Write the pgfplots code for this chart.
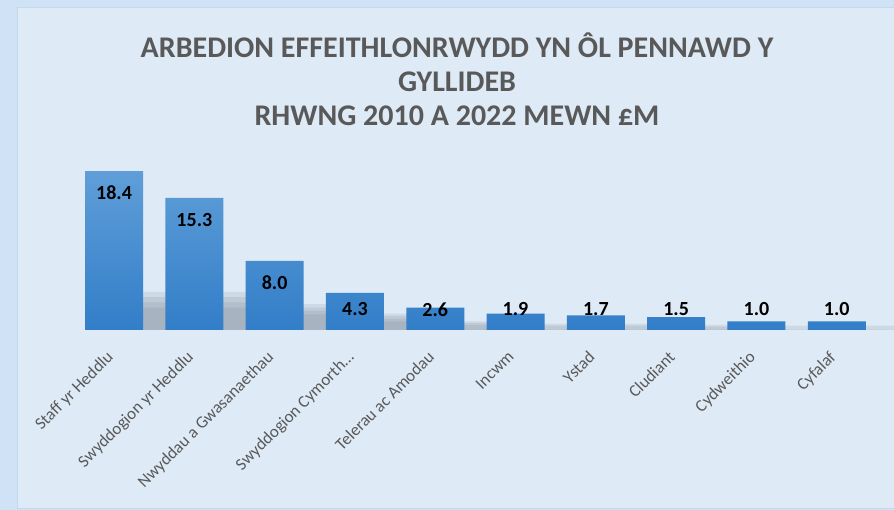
\documentclass[border=0pt]{standalone}
\usepackage{pgfplots}
\pgfplotsset{compat=1.18}
\usepackage{pgfplotstable}
\usepackage{fontspec}
\setmainfont{Carlito}
\definecolor{outerbg}{RGB}{208,226,246}
\definecolor{panelbg}{RGB}{222,234,246}
\definecolor{panelborder}{RGB}{196,216,238}
\definecolor{titlegray}{RGB}{89,89,89}
\definecolor{bartop}{RGB}{95,158,216}
\definecolor{barbot}{RGB}{50,126,200}
\definecolor{shadowgray}{RGB}{110,122,135}

\pgfplotstableread{
x v
0 18.4
1 15.3
2 8.0
3 4.3
4 2.6
5 1.9
6 1.7
7 1.5
8 1.0
9 1.0
}\bardata

\pgfplotstableread{
x y lab
0 15.85 18.4
1 12.75 15.3
2 5.45 8.0
3 2.40 4.3
4 2.35 2.6
5 2.40 1.9
6 2.40 1.7
7 2.40 1.5
8 2.40 1.0
9 2.40 1.0
}\labdata

% soft shadow layers (heights in data units)
\pgfplotstableread{
x a b c d
0 4.4 3.8 3.2 2.6
1 4.4 3.8 3.2 2.6
2 3.0 2.6 2.2 1.8
3 1.9 1.6 1.3 1.0
4 1.0 0.8 0.6 0.0
5 0.7 0.5 0.0 0.0
6 0.7 0.5 0.0 0.0
7 0.6 0.4 0.0 0.0
8 0.5 0.0 0.0 0.0
9 0.5 0.0 0.0 0.0
}\shadowdata

\begin{document}
\begin{tikzpicture}
\useasboundingbox (0,0) rectangle (894pt,510pt);
\fill[outerbg] (0,0) rectangle (894pt,510pt);
\filldraw[fill=panelbg,draw=panelborder,line width=0.8pt] (17pt,2pt) rectangle (896pt,503pt);
\node[align=center,text=titlegray,font=\fontsize{30pt}{34pt}\selectfont\bfseries] at (457pt,431pt)
 {ARBEDION EFFEITHLONRWYDD YN ÔL PENNAWD Y\\GYLLIDEB\\RHWNG 2010 A 2022 MEWN £M};
\begin{axis}[
  at={(73.9pt,180pt)}, anchor=south west,
  scale only axis,
  width=803pt, height=172.8pt,
  xmin=-0.5, xmax=9.5, ymin=0, ymax=20,
  axis line style={draw=none},
  major tick length=0pt,
  clip=false,
  xtick=data,
  ytick=\empty,
  xticklabels={Staff yr Heddlu,Swyddogion yr Heddlu,Nwyddau a Gwasanaethau,Swyddogion Cymorth…,Telerau ac Amodau,Incwm,Ystad,Cludiant,Cydweithio,Cyfalaf},
  xticklabel style={xshift=-8.5pt,yshift=-15pt,rotate=45,anchor=north east,text=titlegray,font=\fontsize{17pt}{20pt}\selectfont},
]
\addplot[ybar, bar width=54pt, bar shift=40pt, draw=none, fill=shadowgray, fill opacity=0.15] table[x=x,y=a] {\shadowdata};
\addplot[ybar, bar width=44pt, bar shift=40pt, draw=none, fill=shadowgray, fill opacity=0.15] table[x=x,y=b] {\shadowdata};
\addplot[ybar, bar width=34pt, bar shift=40pt, draw=none, fill=shadowgray, fill opacity=0.15] table[x=x,y=c] {\shadowdata};
\addplot[ybar, bar width=24pt, bar shift=40pt, draw=none, fill=shadowgray, fill opacity=0.15] table[x=x,y=d] {\shadowdata};
\addplot[ybar, bar width=58pt, bar shift=0pt, draw=none, top color=bartop, bottom color=barbot] table[x=x,y=v] {\bardata};
\addplot[only marks, mark=none, point meta=explicit symbolic,
  nodes near coords, nodes near coords align=center,
  every node near coord/.append style={font=\fontsize{20pt}{24pt}\selectfont\bfseries, text=black, anchor=center}]
  table[x=x,y=y,meta=lab] {\labdata};
\end{axis}
\end{tikzpicture}
\end{document}
